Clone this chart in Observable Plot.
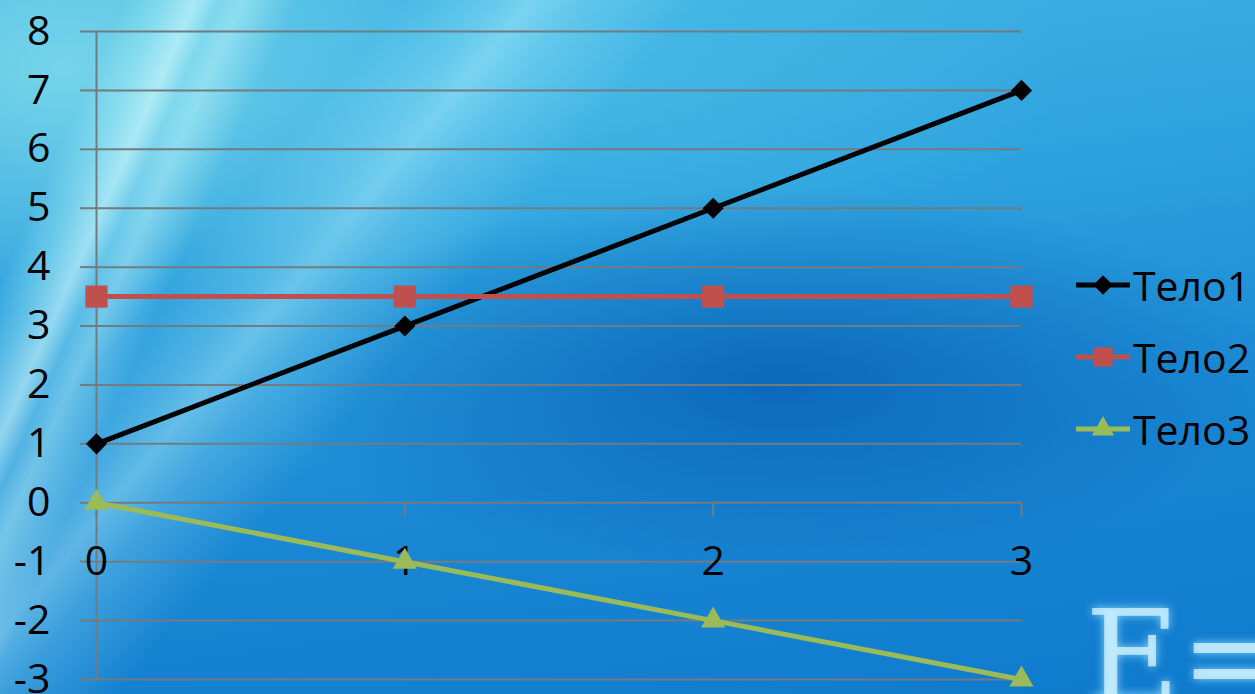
<!DOCTYPE html>
<html>
<head>
<meta charset="utf-8">
<script src="https://cdn.jsdelivr.net/npm/d3@7"></script>
<script src="https://cdn.jsdelivr.net/npm/@observablehq/plot@0.6"></script>
<style>
  html, body { margin: 0; padding: 0; }
  body {
    width: 1255px; height: 694px; overflow: hidden; position: relative;
    font-family: "Open Sans", sans-serif;
    background:
      linear-gradient(114deg, rgba(255,255,255,0) 8%, rgba(190,250,250,0.35) 10.5%, rgba(220,255,255,0.6) 12.5%, rgba(190,250,250,0.3) 14%, rgba(200,250,250,0.45) 15.5%, rgba(255,255,255,0) 19%),
      linear-gradient(130deg, rgba(255,255,255,0) 22%, rgba(170,240,250,0.3) 27%, rgba(200,250,255,0.4) 29%, rgba(170,240,250,0.25) 32%, rgba(255,255,255,0) 38%),
      radial-gradient(ellipse 40% 28% at 62% 55%, rgba(6,95,180,0.8), rgba(6,95,180,0) 100%),
      radial-gradient(ellipse 30% 35% at 5% 10%, rgba(130,220,235,0.8), rgba(130,220,235,0) 100%),
      radial-gradient(ellipse 45% 30% at 40% 10%, rgba(80,195,235,0.6), rgba(80,195,235,0) 100%),
      linear-gradient(172deg, #45b6e3 0%, #2ea2de 35%, #1a88d4 65%, #0f7acd 100%);
  }
  #chart { position: absolute; left: 0; top: 0; }
  #legend { position: absolute; left: 1075px; top: 249px; font-size: 41px; color: #000; }
  .item { display: flex; align-items: center; height: 72px; }
  .item svg { margin-right: 2px; }
  #bg-text { position: absolute; left: 1085px; top: 592px; font-family: "DejaVu Serif", serif; font-size: 130px; color: rgba(215,245,255,0.75); text-shadow: 0 0 10px rgba(150,225,255,0.9); line-height: 1; }
</style>
</head>
<body>
<div id="bg-text">E=</div>
<div id="chart"></div>
<div id="legend"></div>
<script>
const xValues = [0, 1, 2, 3];
const body1 = [1, 3, 5, 7];
const body2 = [3.5, 3.5, 3.5, 3.5];
const body3 = [0, -1, -2, -3];
const seriesNames = ["Тело1", "Тело2", "Тело3"];
const seriesColors = ["#000000", "#c0504d", "#9bbb59"];
const seriesSymbols = ["diamond2", "square", "triangle"];
const seriesR = [9.5, 12.5, 9];
const yTicks = [-3, -2, -1, 0, 1, 2, 3, 4, 5, 6, 7, 8];

const seriesValues = [body1, body2, body3];
const data = seriesValues.flatMap((vals, i) => vals.map((v, j) => ({series: seriesNames[i], x: xValues[j], y: v, i})));

const marks = [
  Plot.gridY(yTicks, {stroke: "#737b80", strokeOpacity: 1, strokeWidth: 2}),
  Plot.axisY(yTicks, {tickSize: 16, tickPadding: 30, stroke: "#737b80", strokeWidth: 2, fontSize: 41, fill: "#000", tickFormat: d => String(d), label: null}),
  Plot.ruleX([0], {stroke: "#737b80", strokeWidth: 2}),
  Plot.ruleX(xValues, {x: d => d, y1: 0, y2: -0.25, stroke: "#737b80", strokeWidth: 2}),
  Plot.text(xValues, {x: d => d, y: -1, text: d => String(d), fontSize: 41, fill: "#000"})
];
seriesNames.forEach((name, i) => {
  const d = data.filter(p => p.i === i);
  marks.push(Plot.line(d, {x: "x", y: "y", stroke: seriesColors[i], strokeWidth: 5}));
  marks.push(Plot.dot(d, {x: "x", y: "y", symbol: () => seriesSymbols[i], r: seriesR[i], fill: seriesColors[i], stroke: "none"}));
});

const chart = Plot.plot({
  width: 1255,
  height: 694,
  marginLeft: 96,
  marginRight: 234,
  marginTop: 31,
  marginBottom: 15,
  style: {background: "transparent", fontFamily: "'Open Sans', sans-serif", overflow: "visible"},
  x: {domain: [0, 3], axis: null},
  y: {domain: [-3, 8], axis: null},
  symbol: {type: "identity"},
  marks
});
document.getElementById("chart").appendChild(chart);

const legend = document.getElementById("legend");
seriesNames.forEach((name, i) => {
  const row = document.createElement("div");
  row.className = "item";
  const sym = d3.symbol(d3["symbol" + seriesSymbols[i][0].toUpperCase() + seriesSymbols[i].slice(1)], Math.PI * seriesR[i] * seriesR[i] * (i === 1 ? 0.75 : 0.85))();
  row.innerHTML = `<svg width="56" height="30" viewBox="0 0 56 30"><line x1="1" x2="55" y1="15" y2="15" stroke="${seriesColors[i]}" stroke-width="5"/><path transform="translate(28,15)" d="${sym}" fill="${seriesColors[i]}"/></svg><span>${name}</span>`;
  legend.appendChild(row);
});
</script>
</body>
</html>
